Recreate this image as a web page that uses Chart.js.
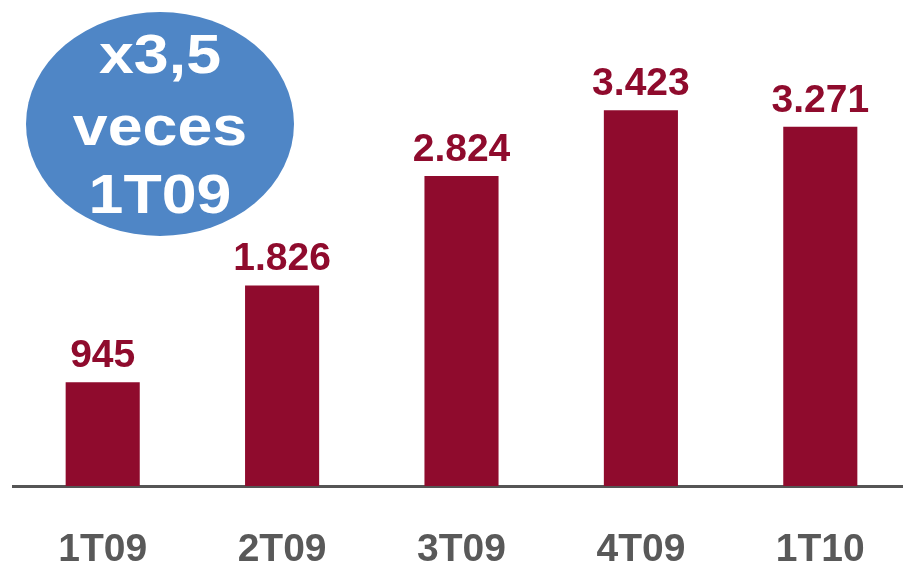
<!DOCTYPE html>
<html>
<head>
<meta charset="utf-8">
<script src="https://cdn.jsdelivr.net/npm/chart.js@4"></script>
<style>
  html, body { margin: 0; padding: 0; background: #fff; overflow: hidden; }
  #wrap { position: relative; width: 912px; height: 564px; }
</style>
</head>
<body>
<div id="wrap"><canvas id="grafico"></canvas></div>
<script>
// Datos del gráfico
const trimestres = ["1T09", "2T09", "3T09", "4T09", "1T10"];
const valores = [945, 1826, 2824, 3423, 3271];
const etiquetasValores = ["945", "1.826", "2.824", "3.423", "3.271"];
const textoBurbuja = ["x3,5", "veces", "1T09"];

const colorBarra = "#8F0B2D";
const colorEje = "#595959";

// Etiquetas de valor sobre cada barra
const pluginEtiquetas = {
    id: "etiquetas",
    afterDatasetsDraw(chart) {
        const ctx = chart.ctx;
        const meta = chart.getDatasetMeta(0);
        ctx.save();
        ctx.font = "bold 39px 'Liberation Sans', Arial, sans-serif";
        ctx.fillStyle = colorBarra;
        ctx.textAlign = "center";
        ctx.textBaseline = "alphabetic";
        meta.data.forEach((barra, i) => {
            ctx.fillText(etiquetasValores[i], barra.x, barra.y - 15);
        });
        ctx.restore();
    }
};

// Burbuja azul "x3,5 veces 1T09"
const pluginBurbuja = {
    id: "burbuja",
    afterDraw(chart) {
        const ctx = chart.ctx;
        ctx.save();
        ctx.fillStyle = "#4F86C6";
        ctx.beginPath();
        ctx.ellipse(160, 124, 134, 112, 0, 0, Math.PI * 2);
        ctx.fill();
        ctx.fillStyle = "#ffffff";
        ctx.font = "bold 55px 'Liberation Sans', Arial, sans-serif";
        ctx.textAlign = "center";
        ctx.textBaseline = "alphabetic";
        // el texto original esta un poco ensanchado
        ctx.translate(160, 0);
        ctx.scale(1.14, 1);
        const bases = [73, 145, 213];
        textoBurbuja.forEach((t, i) => ctx.fillText(t, 0, bases[i]));
        ctx.restore();
    }
};

new Chart(document.getElementById("grafico"), {
    type: "bar",
    data: {
        labels: trimestres,
        datasets: [{
            data: valores,
            backgroundColor: colorBarra,
            borderWidth: 0,
            categoryPercentage: 1,
            barPercentage: 0.413
        }]
    },
    options: {
        responsive: true,
        maintainAspectRatio: false,
        animation: false,
        layout: { padding: { left: 13, right: 2, top: 0, bottom: 0 } },
        plugins: {
            legend: { display: false },
            tooltip: { enabled: false }
        },
        scales: {
            y: {
                display: false,
                min: 0,
                max: 4426
            },
            x: {
                grid: { display: false, drawTicks: false },
                border: { display: true, color: "#555555", width: 3 },
                ticks: {
                    color: colorEje,
                    padding: 41,
                    font: { family: "'Liberation Sans', Arial, sans-serif", size: 39, weight: "bold" }
                },
                afterFit(scale) { scale.height = 78; }
            }
        }
    },
    plugins: [pluginEtiquetas, pluginBurbuja]
});
</script>
</body>
</html>
